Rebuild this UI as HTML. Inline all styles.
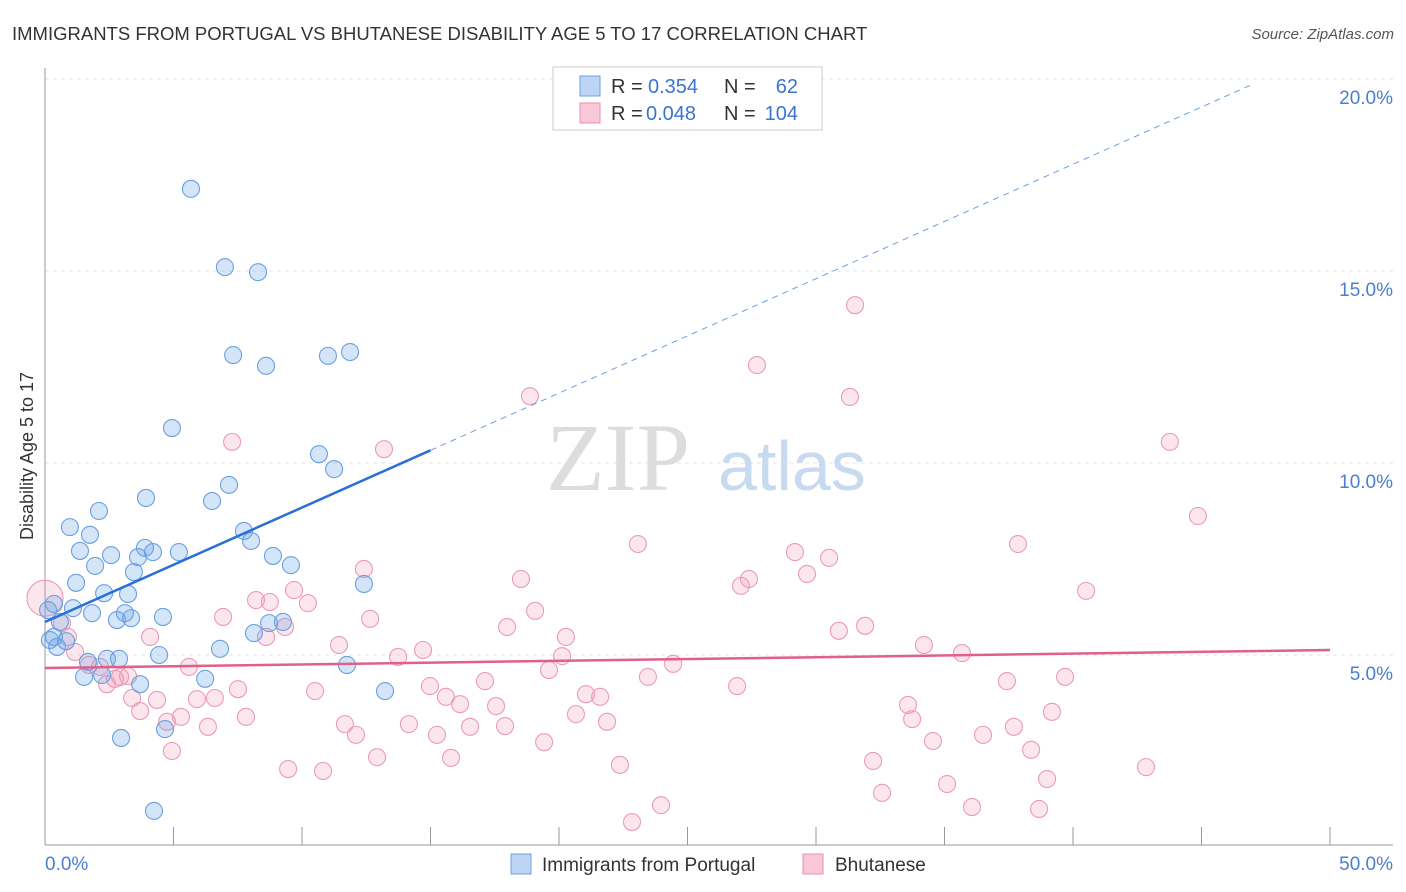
<!DOCTYPE html>
<html><head><meta charset="utf-8"><style>
body{margin:0;background:#fff;font-family:"Liberation Sans",sans-serif}
svg{display:block}
</style></head><body>
<svg id="chart" width="1406" height="892" xmlns="http://www.w3.org/2000/svg">
<text x="12" y="40" font-size="18.5" fill="#333">IMMIGRANTS FROM PORTUGAL VS BHUTANESE DISABILITY AGE 5 TO 17 CORRELATION CHART</text>
<text x="1394" y="39" font-size="15" fill="#555" font-style="italic" text-anchor="end">Source: ZipAtlas.com</text>
<g id="grid"></g>
<text x="690" y="490" font-size="96" fill="#ddd" font-family="Liberation Serif" text-anchor="end">ZIP</text>
<text x="718" y="490" font-size="70" fill="#c8daf0">atlas</text>
<g id="axes"></g>
<g id="pts"></g>
<g id="lines"></g>
<text transform="translate(33,456) rotate(-90)" font-size="18" fill="#333" text-anchor="middle">Disability Age 5 to 17</text>
<g>
<rect x="553" y="67" width="269" height="63" fill="#fff" stroke="#ccc"/>
<rect x="580" y="76" width="20" height="20" fill="#bcd5f5" stroke="#6fa0e0"/>
<rect x="580" y="103" width="20" height="20" fill="#f8c8d8" stroke="#e890b0"/>
<text x="611" y="93" font-size="20" fill="#333">R =</text><text x="648" y="93" font-size="20" fill="#3a74d0">0.354</text>
<text x="724" y="93" font-size="20" fill="#333">N =</text><text x="798" y="93" font-size="20" fill="#3a74d0" text-anchor="end">62</text>
<text x="611" y="120" font-size="20" fill="#333">R =</text><text x="646" y="120" font-size="20" fill="#3a74d0">0.048</text>
<text x="724" y="120" font-size="20" fill="#333">N =</text><text x="798" y="120" font-size="20" fill="#3a74d0" text-anchor="end">104</text>
</g>
<g>
<rect x="511" y="854" width="20" height="20" fill="#bcd5f5" stroke="#6fa0e0"/>
<text x="542" y="871" font-size="19" fill="#333">Immigrants from Portugal</text>
<rect x="803" y="854" width="20" height="20" fill="#f8c8d8" stroke="#e890b0"/>
<text x="835" y="871" font-size="19" fill="#333">Bhutanese</text>
</g>
</svg>
<script>
const blueX=[5.68,7.00,8.29,7.32,8.60,11.01,11.87,4.94,10.66,11.25,3.93,7.16,6.50,2.10,0.97,1.75,7.74,8.02,1.36,2.57,3.89,4.20,5.21,3.62,8.87,9.57,1.95,3.46,1.21,12.41,2.30,3.23,0.35,1.09,1.83,3.11,2.80,3.35,4.59,0.58,8.72,9.26,0.35,0.82,8.13,0.47,1.67,2.41,2.88,4.44,6.81,11.75,1.52,2.22,6.23,3.70,13.23,4.67,2.96,4.24,0.19,0.12];
const blueY=[17.14,15.10,14.97,12.81,12.53,12.79,12.89,10.91,10.23,9.84,9.09,9.43,9.01,8.75,8.33,8.13,8.23,7.97,7.71,7.60,7.79,7.68,7.68,7.55,7.58,7.34,7.32,7.16,6.88,6.85,6.61,6.59,6.33,6.22,6.09,6.09,5.91,5.96,5.99,5.86,5.83,5.86,5.47,5.36,5.57,5.21,4.82,4.90,4.90,5.00,5.16,4.74,4.43,4.48,4.38,4.24,4.06,3.07,2.84,0.94,5.39,6.17];
const pinkX=[31.52,27.70,31.32,18.87,7.28,13.19,43.77,44.86,23.07,37.86,29.18,30.51,12.41,29.65,18.52,27.39,27.08,40.51,9.69,8.21,8.75,10.23,19.07,6.93,12.65,17.98,9.34,30.89,31.91,20.27,4.09,8.60,11.44,14.71,34.20,13.74,20.12,35.68,24.44,19.61,5.60,23.46,17.12,39.69,37.43,14.98,7.51,10.51,26.93,21.05,21.60,15.60,5.91,6.61,3.39,4.36,16.15,17.55,33.58,3.70,5.29,7.82,20.66,39.18,4.75,33.74,11.67,21.87,14.16,17.90,6.34,16.54,37.70,12.10,15.25,36.50,34.55,19.42,4.94,38.37,12.92,15.80,32.22,22.37,9.46,10.82,42.84,38.99,35.10,32.57,23.97,36.07,38.68,22.84,2.14,2.72,2.41,1.71,1.17,0.89,2.92,0.66,3.23,0];
const pinkY=[14.11,12.55,11.72,11.74,10.55,10.36,10.55,8.62,7.89,7.89,7.68,7.53,7.24,7.11,6.98,6.98,6.80,6.67,6.69,6.43,6.38,6.35,6.15,5.99,5.94,5.73,5.73,5.63,5.76,5.47,5.47,5.47,5.26,5.13,5.26,4.95,4.97,5.05,4.77,4.61,4.69,4.43,4.32,4.43,4.32,4.19,4.11,4.06,4.19,3.98,3.91,3.91,3.85,3.88,3.88,3.83,3.72,3.67,3.70,3.54,3.39,3.39,3.46,3.52,3.26,3.33,3.20,3.26,3.20,3.15,3.13,3.13,3.13,2.92,2.92,2.92,2.76,2.73,2.50,2.53,2.34,2.32,2.24,2.14,2.03,1.98,2.08,1.77,1.64,1.41,1.09,1.04,0.99,0.65,4.69,4.38,4.24,4.74,5.08,5.47,4.43,5.83,4.45,6.48];
const yTicks=[5,10,15,20];
const yTickLabels=["5.0%","10.0%","15.0%","20.0%"];
const blueTrend=[5.86,0.298]; // intercept, slope
const pinkTrend=[4.66,0.0094];
const NS="http://www.w3.org/2000/svg";
const X=v=>45+v*25.7, Y=v=>847-v*38.4;
function mk(t,a,p){const e=document.createElementNS(NS,t);for(const k in a)e.setAttribute(k,a[k]);p.appendChild(e);return e;}
const grid=document.getElementById('grid'),axes=document.getElementById('axes'),pts=document.getElementById('pts'),lines=document.getElementById('lines');
yTicks.forEach((t,i)=>{
 const l=mk('line',{x1:45,x2:1393,y1:Y(t),y2:Y(t),stroke:'#e6e6e6','stroke-dasharray':'4,4'},grid);
 
 
 const tx=mk('text',{x:1393,y:Y(t)+25,'font-size':19,fill:'#4a7fd0','text-anchor':'end'},axes);
 tx.textContent=yTickLabels[i];
 
 
});
mk('line',{x1:45,x2:45,y1:68,y2:845,stroke:'#999'},axes);
mk('line',{x1:45,x2:1393,y1:845,y2:845,stroke:'#999'},axes);
for(let i=0;i<=10;i++){const tk=mk('line',{x1:X(i*5),x2:X(i*5),y1:827,y2:845,stroke:'#999'},axes);
 
 }
const x0=mk('text',{x:45,y:870,'font-size':19,fill:'#4a7fd0'},axes);x0.textContent='0.0%';


const x1=mk('text',{x:1393,y:870,'font-size':19,fill:'#4a7fd0','text-anchor':'end'},axes);x1.textContent='50.0%';


pinkX.forEach((v,i)=>{const c=mk('circle',{cx:X(v),cy:Y(pinkY[i]),r:(v===0?18:8.5),fill:'rgba(240,140,175,0.22)',stroke:'#eb9ab8','stroke-width':1.1},pts);
 
 });
blueX.forEach((v,i)=>{const c=mk('circle',{cx:X(v),cy:Y(blueY[i]),r:8.5,fill:'rgba(100,160,230,0.28)',stroke:'#6a9fe0','stroke-width':1.1},pts);
 
 });
const bf=x=>blueTrend[0]+blueTrend[1]*x, pf=x=>pinkTrend[0]+pinkTrend[1]*x;
const b1=mk('line',{x1:X(0),y1:Y(bf(0)),x2:X(15),y2:Y(bf(15)),stroke:'#2a6fd6','stroke-width':2.5},lines);


const b2=mk('line',{x1:X(15),y1:Y(bf(15)),x2:X(46.9),y2:Y(bf(46.9)),stroke:'#6a9fe0','stroke-width':1,'stroke-dasharray':'6,5'},lines);


const p1=mk('line',{x1:X(0),y1:Y(pf(0)),x2:X(50),y2:Y(pf(50)),stroke:'#e0608a','stroke-width':2.5},lines);


</script>
</body></html>
